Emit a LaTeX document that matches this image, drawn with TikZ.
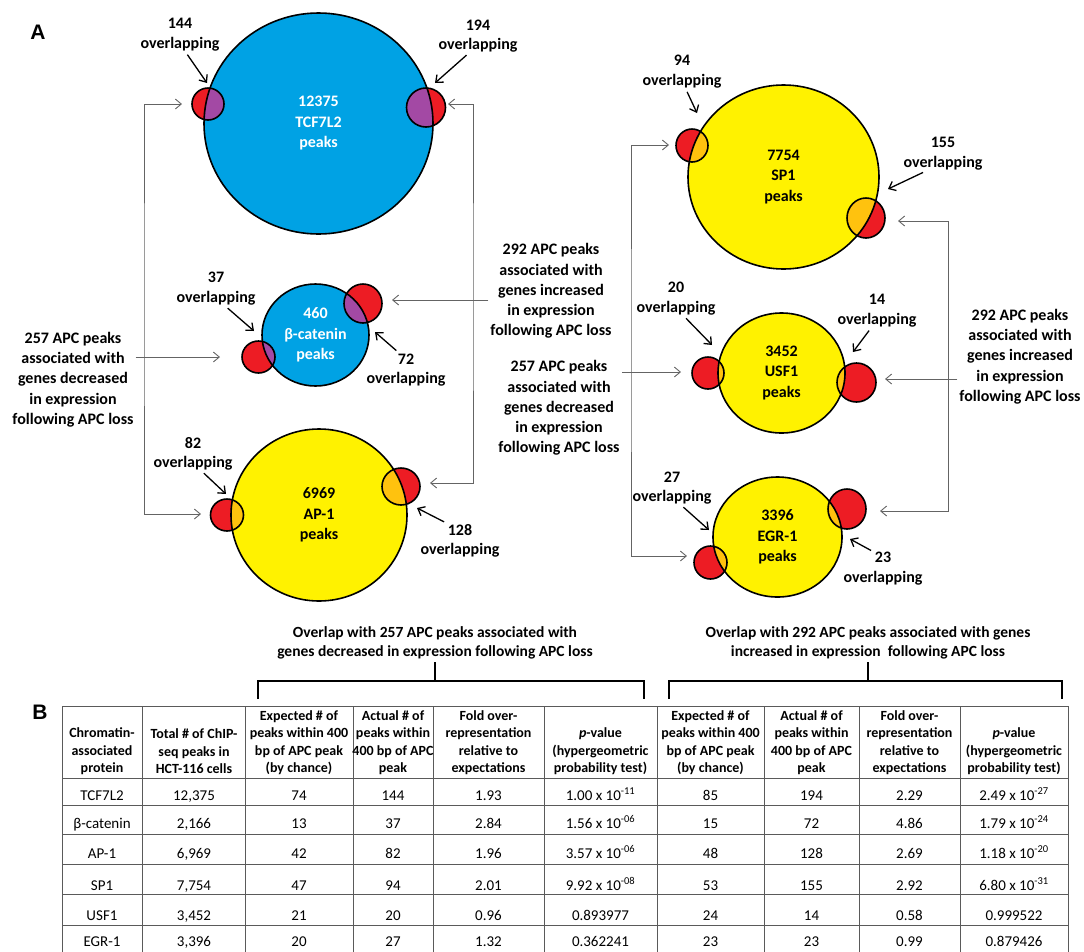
\documentclass[tikz,border=0pt]{standalone}
\usepackage{fontspec}
\setmainfont{Carlito}
\newfontfamily\panelfont{Liberation Sans}
\usetikzlibrary{arrows.meta,shapes.geometric}

\definecolor{tcfblue}{RGB}{0,162,228}
\definecolor{peakyellow}{RGB}{255,242,0}
\definecolor{apcred}{RGB}{237,28,36}
\definecolor{mixpurple}{RGB}{163,73,164}
\definecolor{mixorange}{RGB}{255,194,14}
\definecolor{wiregray}{RGB}{100,100,100}
\definecolor{gridgray}{RGB}{90,90,90}

\begin{document}
\begin{tikzpicture}
  [
  x=1pt, y=-1pt,
  >={Straight Barb[length=6pt,width=10pt]},
  disc/.style={ellipse,draw,line width=1.6pt,inner sep=0pt,align=center,
    font=\bfseries\fontsize{16}{20.5}\selectfont},
  spot/.style={ellipse,draw,line width=1.6pt,fill=apcred,inner sep=0pt},
  mix/.style n args={4}{path picture={
      \fill[#4] (#1.center) ellipse [x radius=#2,y radius=#3];
      \draw[line width=1.6pt] (#1.center) ellipse [x radius=#2,y radius=#3];}},
  lab/.style={inner sep=1pt,font=\bfseries\fontsize{16}{20.5}\selectfont},
  note/.style={inner sep=2pt,align=center,font=\bfseries\fontsize{16}{20.25}\selectfont},
  pointer/.style={->,line width=1.3pt,shorten <=3pt},
  feed/.style={wiregray,line width=0.9pt},
  bracket/.style={line width=2.2pt},
  tabline/.style={gridgray,line width=1pt},
  ttl/.style={align=center,font=\bfseries\fontsize{15.5}{19}\selectfont},
  head/.style={align=center,inner sep=1pt,font=\bfseries\fontsize{14}{17.5}\selectfont},
  cell/.style={anchor=base,inner sep=0pt,font=\fontsize{15}{18}\selectfont},
  panel/.style={font=\panelfont\bfseries\fontsize{21}{24}\selectfont}
  ]
  \useasboundingbox (0,0) rectangle (1084,951);
  \clip (0,0) rectangle (1084,951);

  % panel A
  \node[panel] (pa) at (38,32) {A};

  \node[disc,fill=tcfblue,text=white,minimum width=229pt,minimum height=221pt] (tcf) at (318.5,123.5) {12375\\TCF7L2\\peaks};
  \node[disc,fill=tcfblue,text=white,minimum width=107pt,minimum height=102pt] (bcat) at (315.5,335) {460\\β-catenin\\peaks};
  \node[disc,fill=peakyellow,minimum width=176pt,minimum height=172pt] (ap) at (319,515) {6969\\AP-1\\peaks};
  \node[disc,fill=peakyellow,minimum width=191pt,minimum height=184pt] (sp) at (783.5,177) {7754\\SP1\\peaks};
  \node[disc,fill=peakyellow,minimum width=127pt,minimum height=120pt] (usf) at (781.5,373) {3452\\USF1\\peaks};
  \node[disc,fill=peakyellow,minimum width=129pt,minimum height=120pt] (egr) at (777.5,537) {3396\\EGR-1\\peaks};

  % APC peak sets
  \node[spot,minimum width=32pt,minimum height=32pt,mix={tcf}{114.5pt}{110.5pt}{mixpurple}] (tcf-l) at (208,104) {};
  \node[spot,minimum width=39pt,minimum height=39pt,mix={tcf}{114.5pt}{110.5pt}{mixpurple}] (tcf-r) at (426,107.5) {};
  \node[spot,minimum width=33pt,minimum height=32pt,mix={bcat}{53.5pt}{51pt}{mixpurple}] (bcat-l) at (258.5,357) {};
  \node[spot,minimum width=38pt,minimum height=39pt,mix={bcat}{53.5pt}{51pt}{mixpurple}] (bcat-r) at (363,303.5) {};
  \node[spot,minimum width=33pt,minimum height=32pt,mix={ap}{88pt}{86pt}{mixorange}] (ap-l) at (227,515) {};
  \node[spot,minimum width=38pt,minimum height=37pt,mix={ap}{88pt}{86pt}{mixorange}] (ap-r) at (401,486.5) {};
  \node[spot,minimum width=32pt,minimum height=33pt,mix={sp}{95.5pt}{92pt}{mixorange}] (sp-l) at (692,145.5) {};
  \node[spot,minimum width=38pt,minimum height=40pt,mix={sp}{95.5pt}{92pt}{mixorange}] (sp-r) at (866,218) {};
  \node[spot,minimum width=32pt,minimum height=32pt,mix={usf}{63.5pt}{60pt}{mixorange}] (usf-l) at (708,373) {};
  \node[spot,minimum width=39pt,minimum height=39pt,mix={usf}{63.5pt}{60pt}{mixorange}] (usf-r) at (856.5,382.5) {};
  \node[spot,minimum width=33pt,minimum height=33pt,mix={egr}{64.5pt}{60pt}{mixorange}] (egr-l) at (710.5,562.5) {};
  \node[spot,minimum width=38pt,minimum height=40pt,mix={egr}{64.5pt}{60pt}{mixorange}] (egr-r) at (847,509) {};

  % overlap counts
  \node[lab] (n144) at (180,23) {144};
  \node[lab] (w144) at (180,44) {overlapping};
  \node[lab] (n194) at (478,25) {194};
  \node[lab] (w194) at (478,45) {overlapping};
  \node[lab] (n37) at (216,277) {37};
  \node[lab] (w37) at (216,298) {overlapping};
  \node[lab] (n72) at (406,359) {72};
  \node[lab] (w72) at (406,379) {overlapping};
  \node[lab] (n82) at (193,443) {82};
  \node[lab] (w82) at (193,463) {overlapping};
  \node[lab] (n128) at (460,530) {128};
  \node[lab] (w128) at (460,550) {overlapping};
  \node[lab] (n94) at (682,60) {94};
  \node[lab] (w94) at (682,81) {overlapping};
  \node[lab] (n155) at (943,142) {155};
  \node[lab] (w155) at (943,163) {overlapping};
  \node[lab] (n20) at (676,287) {20};
  \node[lab] (w20) at (676,308) {overlapping};
  \node[lab] (n14) at (877,299) {14};
  \node[lab] (w14) at (877,320) {overlapping};
  \node[lab] (n27) at (672,477) {27};
  \node[lab] (w27) at (672,497) {overlapping};
  \node[lab] (n23) at (883,557) {23};
  \node[lab] (w23) at (883,578) {overlapping};

  \coordinate (p144) at (207,83);
  \coordinate (p194) at (435,83);
  \coordinate (p37) at (254,331);
  \coordinate (p72) at (375,332);
  \coordinate (p82) at (226,494);
  \coordinate (p128) at (417,508);
  \coordinate (p94) at (697,113);
  \coordinate (p155) at (888,189);
  \coordinate (p20) at (712,345);
  \coordinate (p14) at (853,352);
  \coordinate (p27) at (709,530);
  \coordinate (p23) at (850,539);

  \draw[pointer] (w144) -- (p144);
  \draw[pointer] (w194) -- (p194);
  \draw[pointer] (w37) -- (p37);
  \draw[pointer] (n72) -- (p72);
  \draw[pointer] (w82) -- (p82);
  \draw[pointer] (n128) -- (p128);
  \draw[pointer] (w94) -- (p94);
  \draw[pointer] (w155) -- (p155);
  \draw[pointer] (w20) -- (p20);
  \draw[pointer] (w14) -- (p14);
  \draw[pointer] (w27) -- (p27);
  \draw[pointer] (n23) -- (p23);

  % APC peak groups
  \node[note] (dec-l) at (73,379.5) {257 APC peaks\\associated with\\genes decreased\\in expression\\following APC loss};
  \node[note] (inc-l) at (551,291) {292 APC peaks\\associated with\\genes increased\\in expression\\following APC loss};
  \node[note] (dec-r) at (559,408) {257 APC peaks\\associated with\\genes decreased\\in expression\\following APC loss};
  \node[note] (inc-r) at (1020,356.5) {292 APC peaks\\associated with\\genes increased\\in expression\\following APC loss};

  \coordinate (t-tcf-l) at (182,104);
  \coordinate (t-bcat-l) at (220,357);
  \coordinate (t-ap-l) at (201,514);
  \coordinate (t-tcf-r) at (448,104);
  \coordinate (t-bcat-r) at (392,300);
  \coordinate (t-ap-r) at (430,483);
  \coordinate (t-sp-l) at (669,145);
  \coordinate (t-usf-l) at (681,372);
  \coordinate (t-egr-l) at (687,556);
  \coordinate (t-sp-r) at (898,221);
  \coordinate (t-usf-r) at (885,379);
  \coordinate (t-egr-r) at (880,511);
  \coordinate (bus-a) at (144,300);
  \coordinate (bus-b) at (473,300);
  \coordinate (bus-c) at (631,350);
  \coordinate (bus-d) at (948,350);

  \draw[feed,<->] (t-tcf-l) -| (bus-a) |- (t-ap-l);
  \draw[feed,->] (dec-l.east |- t-bcat-l) -- (t-bcat-l);
  \draw[feed,<->] (t-tcf-r) -| (bus-b) |- (t-ap-r);
  \draw[feed,->] (inc-l.west |- t-bcat-r) -- (t-bcat-r);
  \draw[feed,<->] (t-sp-l) -| (bus-c) |- (t-egr-l);
  \draw[feed,->] (dec-r.east |- t-usf-l) -- (t-usf-l);
  \draw[feed,<->] (t-sp-r) -| (bus-d) |- (t-egr-r);
  \draw[feed,->] (inc-r.west |- t-usf-r) -- (t-usf-r);

  % panel B
  \node[panel] (pb) at (40,712) {B};
  \node[ttl] (ov-dec) at (435,642.5) {Overlap with 257 APC peaks associated with\\genes decreased in expression following APC loss};
  \node[ttl] (ov-inc) at (868,642.5) {Overlap with 292 APC peaks associated with genes\\increased in expression\ \ following APC loss};
  \draw[bracket] (258,699) |- (644,681) -- (644,699);
  \draw[bracket] (ov-dec.south) -- (ov-dec.south |- 0,681);
  \draw[bracket] (669,699) |- (1062,681) -- (1062,699);
  \draw[bracket] (ov-inc.south) -- (ov-inc.south |- 0,681);

  \foreach \x in {62,142,245.5,353,433,544,657,764,859,960,1068}
    \draw[tabline] (\x,706) -- (\x,956);
  \foreach \y in {706,778,805,834,864,894,925,956}
    \draw[tabline] (62,\y) -- (1068,\y);

  \node[head] (h-prot) at (102,751.5) {Chromatin-\\associated\\protein};
  \node[head] (h-total) at (194,751.5) {Total \# of ChIP-\\seq peaks in\\HCT-116 cells};
  \node[head] (h-exp-a) at (299,742.5) {Expected \# of\\peaks within 400\\bp of APC peak\\(by chance)};
  \node[head] (h-act-a) at (393,742.5) {Actual \# of\\peaks within\\400 bp of APC\\peak};
  \node[head] (h-fold-a) at (488.5,742.5) {Fold over-\\representation\\relative to\\expectations};
  \node[head] (h-p-a) at (600.5,751.5) {\textit{p}-value\\(hypergeometric\\probability test)};
  \node[head] (h-exp-b) at (710.5,742.5) {Expected \# of\\peaks within 400\\bp of APC peak\\(by chance)};
  \node[head] (h-act-b) at (811.5,742.5) {Actual \# of\\peaks within\\400 bp of APC\\peak};
  \node[head] (h-fold-b) at (909.5,742.5) {Fold over-\\representation\\relative to\\expectations};
  \node[head] (h-p-b) at (1014,751.5) {\textit{p}-value\\(hypergeometric\\probability test)};

  \foreach \y/\prot/\tot/\ea/\aa/\fa/\pa/\eb/\ab/\fb/\pb [count=\r] in {
      800/TCF7L2/{12,375}/74/144/1.93/{1.00 x 10\textsuperscript{-11}}/85/194/2.29/{2.49 x 10\textsuperscript{-27}},
      828/β-catenin/{2,166}/13/37/2.84/{1.56 x 10\textsuperscript{-06}}/15/72/4.86/{1.79 x 10\textsuperscript{-24}},
      858/AP-1/{6,969}/42/82/1.96/{3.57 x 10\textsuperscript{-06}}/48/128/2.69/{1.18 x 10\textsuperscript{-20}},
      890/SP1/{7,754}/47/94/2.01/{9.92 x 10\textsuperscript{-08}}/53/155/2.92/{6.80 x 10\textsuperscript{-31}},
      920/USF1/{3,452}/21/20/0.96/0.893977/24/14/0.58/0.999522,
      946/EGR-1/{3,396}/20/27/1.32/0.362241/23/23/0.99/0.879426}
  {
    \node[cell] (r\r-1) at (102,\y) {\prot};
    \node[cell] (r\r-2) at (194,\y) {\tot};
    \node[cell] (r\r-3) at (299,\y) {\ea};
    \node[cell] (r\r-4) at (393,\y) {\aa};
    \node[cell] (r\r-5) at (488.5,\y) {\fa};
    \node[cell] (r\r-6) at (600.5,\y) {\pa};
    \node[cell] (r\r-7) at (710.5,\y) {\eb};
    \node[cell] (r\r-8) at (811.5,\y) {\ab};
    \node[cell] (r\r-9) at (909.5,\y) {\fb};
    \node[cell] (r\r-10) at (1014,\y) {\pb};
  }
\end{tikzpicture}
\end{document}
